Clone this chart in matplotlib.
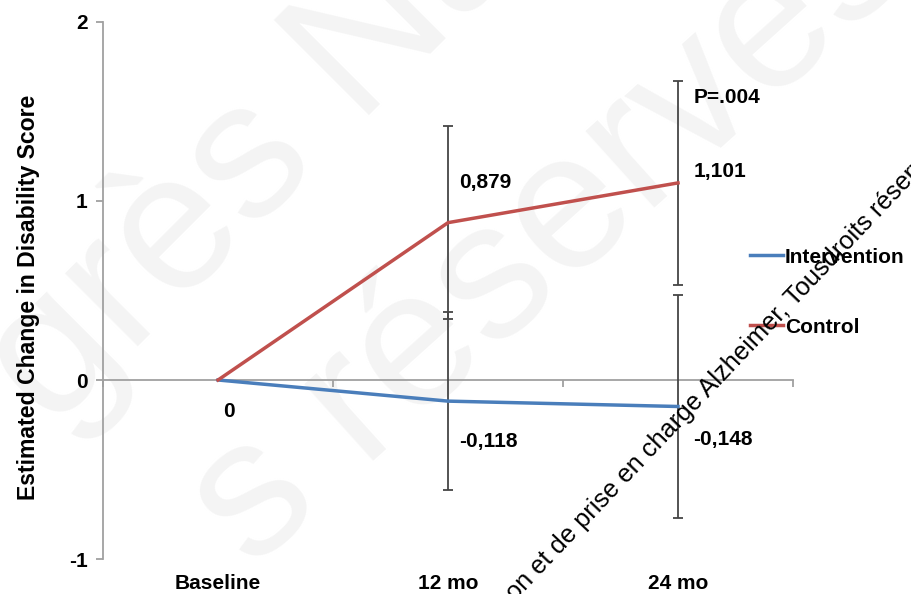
import matplotlib
matplotlib.use("Agg")
import matplotlib.pyplot as plt
from matplotlib.lines import Line2D
import numpy as np

# Data
periods = ["Baseline", "12 mo", "24 mo"]
control = [0.0, 0.879, 1.101]
control_err = [np.nan, 0.540, 0.569]
intervention = [0.0, -0.118, -0.148]
intervention_err = [np.nan, 0.497, 0.623]
control_labels = ["", "0,879", "1,101"]
intervention_labels = ["0", "-0,118", "-0,148"]
p_value_text = "P=.004"

RED = "#c0504d"
BLUE = "#4a7ebb"
AXIS = "#a0a0a0"
ERR = "#454545"
FS = 15

plt.rcParams["font.family"] = ["Liberation Sans", "DejaVu Sans"]
plt.rcParams["font.weight"] = "bold"

fig = plt.figure(figsize=(9.12, 5.94), dpi=100)
ax = fig.add_axes([0.113, 0.0589, 0.7565, 0.9041])
ax.patch.set_visible(False)

# faint background watermark
wm = dict(color="#f4f4f4", fontsize=140, fontweight="normal",
          rotation_mode="anchor", ha="left", va="baseline",
          transform=fig.transFigure, zorder=-10)
fig.text(0.058, 0.273, "grès Na", rotation=45, **wm)
fig.text(0.276, 0.040, "s réservés", rotation=42, **wm)

x = np.arange(len(periods))

ax.errorbar(x, intervention, yerr=intervention_err, color=BLUE, lw=2.5,
            ecolor=ERR, elinewidth=1.3, capsize=3.5, capthick=1.3, zorder=3)
ax.errorbar(x, control, yerr=control_err, color=RED, lw=2.5,
            ecolor=ERR, elinewidth=1.3, capsize=3.5, capthick=1.3, zorder=3)

ax.set_xlim(-0.5, 2.5)
ax.set_ylim(-1, 2)
ax.set_yticks([-1, 0, 1, 2])
ax.set_yticklabels(["-1", "0", "1", "2"], fontsize=FS, fontweight="bold")

# category boundaries as ticks on the zero line
ax.set_xticks([-0.5, 0.5, 1.5, 2.5])
ax.set_xticklabels([])
ax.spines["bottom"].set_position(("data", 0))
for s in ["top", "right"]:
    ax.spines[s].set_visible(False)
for s in ["left", "bottom"]:
    ax.spines[s].set_color(AXIS)
    ax.spines[s].set_linewidth(1.3)
ax.tick_params(axis="both", colors=AXIS, length=5, width=1.3, labelcolor="black",
               pad=6)
ax.tick_params(axis="x", direction="out")

for xi, lab in zip(x, periods):
    ax.text(xi, -0.045, lab, transform=ax.get_xaxis_transform(),
            ha="center", va="center", fontsize=FS, fontweight="bold")

ax.set_ylabel("Estimated Change in Disability Score", fontsize=16.6,
              fontweight="bold")
ax.yaxis.set_label_coords(-0.091, 0.487)

# value labels (offsets in points)
ctrl_off = [None, (8, 29), (11, 8)]
intv_off = [(8, -23), (8, -29), (11, -24)]
for xi, yv, lab, off in zip(x, control, control_labels, ctrl_off):
    if lab:
        ax.annotate(lab, (xi, yv), xytext=off, textcoords="offset points",
                    ha="left", va="center", fontsize=FS, fontweight="bold")
for xi, yv, lab, off in zip(x, intervention, intervention_labels, intv_off):
    ax.annotate(lab, (xi, yv), xytext=off, textcoords="offset points",
                ha="center" if xi == 0 else "left", va="center",
                fontsize=FS, fontweight="bold")
ax.annotate(p_value_text, (2, control[2] + control_err[2]), xytext=(11, -11.5),
            textcoords="offset points", ha="left", va="center",
            fontsize=FS, fontweight="bold")

handles = [Line2D([], [], color=BLUE, lw=2.5), Line2D([], [], color=RED, lw=2.5)]
leg = ax.legend(handles, ["Intervention", "Control"], loc="center left",
                bbox_to_anchor=(0.822, 0.508), bbox_transform=fig.transFigure,
                frameon=False, fontsize=FS, handlelength=1.6, handletextpad=0.1,
                labelspacing=2.45, borderaxespad=0, borderpad=0)
leg.set_zorder(4)

# diagonal overlay text
fig.text(0.565, -0.013, "on et de prise en charge Alzheimer, Tousdroits réservés",
         fontsize=18.3, fontweight="normal", color="black", rotation=46.5,
         rotation_mode="anchor", ha="left", va="baseline",
         transform=fig.transFigure, zorder=10)

fig.savefig("out.png", dpi=100)
